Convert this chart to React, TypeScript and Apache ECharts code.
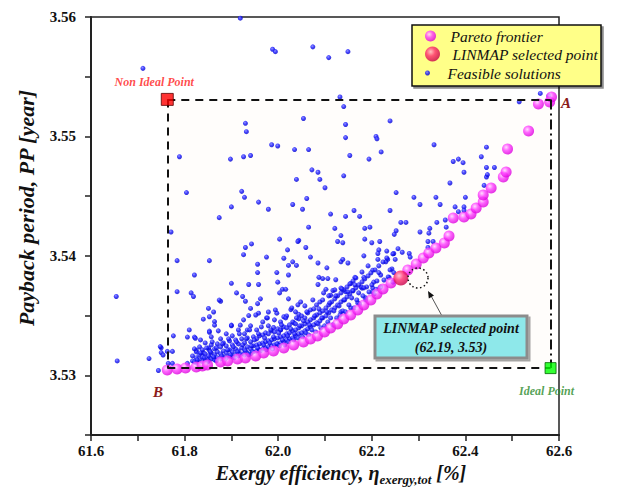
import React, { useEffect, useRef } from "react";
import * as echarts from "echarts";

const FONT = "'Liberation Serif', 'Times New Roman', serif";

// Pareto frontier (exergy efficiency %, payback period year)
const paretoFrontier: [number, number][] = [
  [61.763, 3.53044], [61.784, 3.53053], [61.802, 3.53061], [61.825, 3.5307], [61.838, 3.53078],
  [61.849, 3.53086], [61.877, 3.53111], [61.892, 3.5312], [61.913, 3.53136], [61.93, 3.53145],
  [61.952, 3.53162], [61.969, 3.53187], [61.99, 3.53203], [62.012, 3.53229], [62.033, 3.53254],
  [62.054, 3.53279], [62.069, 3.53304], [62.084, 3.53329], [62.099, 3.53363], [62.112, 3.53396],
  [62.127, 3.5343], [62.14, 3.53471], [62.155, 3.53505], [62.17, 3.53547], [62.183, 3.53589],
  [62.198, 3.5363], [62.211, 3.53681], [62.224, 3.53723], [62.241, 3.53773], [62.277, 3.53882],
  [62.295, 3.53932], [62.31, 3.53982], [62.322, 3.54024], [62.337, 3.54066], [62.355, 3.54108],
  [62.365, 3.54166], [62.374, 3.54317], [62.397, 3.54325], [62.412, 3.54351], [62.423, 3.54401],
  [62.438, 3.54451], [62.438, 3.5451], [62.455, 3.54568], [62.481, 3.5466], [62.487, 3.54702],
  [62.49, 3.54895], [62.535, 3.55045], [62.556, 3.55272], [62.58, 3.55288], [62.584, 3.5533],
];

const linmapPoint: [number, number][] = [[62.262, 3.53815]];

const nonIdealPoint: [number, number] = [61.763, 3.5531];
const idealPoint: [number, number] = [62.582, 3.5306];

// Feasible solutions: scattered points
const feasibleScattered: [number, number][] = [
  [61.711, 3.5557], [61.919, 3.5599], [61.988, 3.5573], [61.994, 3.5571], [62.074, 3.5575], [62.108, 3.5566], [62.149, 3.5571],
  [62.132, 3.5533], [62.14, 3.5525], [62.054, 3.5515], [62.144, 3.551], [62.239, 3.5513], [61.93, 3.5511], [61.932, 3.5504],
  [62.144, 3.5499], [62.209, 3.55], [62.211, 3.5498], [61.986, 3.5493], [61.999, 3.5492], [62.035, 3.5489], [62.065, 3.5489],
  [62.22, 3.5487], [62.153, 3.5484], [61.789, 3.5483], [61.898, 3.5481], [61.926, 3.5483], [61.941, 3.5484], [62.194, 3.5481],
  [62.333, 3.5493], [62.072, 3.5472], [62.085, 3.547], [62.039, 3.5464], [62.089, 3.5464], [62.14, 3.5467], [62.1, 3.5457],
  [61.804, 3.5453], [61.922, 3.5454], [61.928, 3.5449], [62.252, 3.5453], [61.958, 3.5445], [61.979, 3.5439], [62.031, 3.5443],
  [62.061, 3.5448], [62.052, 3.5439], [61.9, 3.5441], [61.874, 3.5432], [62.112, 3.5435], [62.144, 3.5433], [62.162, 3.5438],
  [62.174, 3.5433], [62.239, 3.5438], [62.065, 3.5424], [62.121, 3.5423], [62.185, 3.5423], [62.196, 3.5424], [62.252, 3.5421],
  [62.248, 3.5418], [62.262, 3.5428], [62.273, 3.5428], [62.134, 3.5417], [62.003, 3.5414], [62.044, 3.5413], [62.185, 3.5414],
  [62.217, 3.5412], [61.771, 3.542], [62.29, 3.5449], [62.303, 3.5443], [62.337, 3.5449], [62.346, 3.5443], [62.378, 3.5441],
  [62.4, 3.5449], [62.397, 3.5441], [62.397, 3.5438], [62.385, 3.5437], [62.367, 3.5461], [62.44, 3.5459], [62.445, 3.5466],
  [62.447, 3.5468], [62.445, 3.5474], [62.462, 3.5474], [62.397, 3.547], [62.395, 3.5478], [62.385, 3.5481], [62.374, 3.5479],
  [62.434, 3.5483], [62.445, 3.5491], [62.515, 3.5529], [62.56, 3.5536], [62.578, 3.5534], [62.303, 3.542], [62.324, 3.5423],
  [62.322, 3.5419], [62.339, 3.5428], [62.357, 3.543], [62.359, 3.5424], [62.32, 3.5412], [62.331, 3.5412], [62.32, 3.5407],
  [62.127, 3.5412], [62.138, 3.5411], [62.2, 3.5411], [62.215, 3.5405], [62.059, 3.5407], [62.069, 3.5399], [62.085, 3.5394],
  [62.104, 3.539], [62.134, 3.5395], [62.138, 3.5397], [62.149, 3.5394], [62.164, 3.5382], [62.183, 3.54], [62.202, 3.5388],
  [62.213, 3.5402], [62.213, 3.5397], [62.232, 3.5404], [62.234, 3.5397], [62.247, 3.5402], [62.25, 3.5397], [62.256, 3.5406],
  [62.265, 3.5403], [62.28, 3.5402], [62.282, 3.5399], [62.23, 3.5395], [62.243, 3.5389], [62.247, 3.5386], [62.219, 3.5384],
  [62.237, 3.5382], [62.245, 3.5378], [62.204, 3.5378], [62.215, 3.5386], [62.183, 3.5382], [62.179, 3.5373], [62.155, 3.5377],
  [62.134, 3.5373], [62.123, 3.538], [62.106, 3.5381], [62.095, 3.5381], [62.087, 3.5382], [62.085, 3.5376], [62.102, 3.5372],
  [62.117, 3.5371], [62.112, 3.5367], [62.144, 3.537], [62.159, 3.5371], [62.177, 3.5374], [62.189, 3.5374], [62.202, 3.5373],
  [62.209, 3.5372], [62.042, 3.5412], [62.031, 3.5395],
  [61.784, 3.5396], [61.853, 3.5396], [61.821, 3.5384], [61.784, 3.537], [61.814, 3.5369], [61.819, 3.5366], [61.9, 3.5377],
  [61.937, 3.5376], [61.958, 3.5376], [61.911, 3.5369], [61.924, 3.5366], [61.93, 3.5362], [61.877, 3.5362], [61.851, 3.5356],
  [61.862, 3.5353], [61.84, 3.5347], [61.853, 3.5349], [61.864, 3.5345], [61.853, 3.5337], [61.81, 3.5338], [61.806, 3.5332],
  [61.821, 3.5332], [61.776, 3.5333], [61.9, 3.5342], [61.919, 3.5342], [61.934, 3.5338], [61.937, 3.535], [61.941, 3.5356],
  [61.956, 3.536], [61.958, 3.5352], [61.962, 3.5364], [61.956, 3.5393], [61.956, 3.5386], [61.93, 3.5407], [61.943, 3.541],
  [61.926, 3.5401], [61.975, 3.5399], [62.02, 3.5405], [62.012, 3.5398], [62.022, 3.5392], [61.997, 3.5386], [61.999, 3.5378],
  [62.022, 3.5384], [62.003, 3.5369], [62.009, 3.5372], [62.016, 3.5372], [62.022, 3.5364], [62.027, 3.5355], [62.039, 3.5392],
  [62.012, 3.5349], [61.997, 3.5352], [61.975, 3.5348], [61.979, 3.5353], [61.99, 3.534], [62.005, 3.5338], [62.042, 3.5359],
  [62.044, 3.5351], [62.033, 3.5344],
  [61.656, 3.5312], [61.724, 3.5314], [61.744, 3.5304], [61.75, 3.5319], [61.75, 3.5323], [61.763, 3.532], [61.774, 3.532],
  [61.765, 3.531], [61.774, 3.531], [61.806, 3.531], [61.823, 3.5331], [61.825, 3.5321], [61.84, 3.5319], [61.853, 3.5321],
  [61.853, 3.5336], [61.864, 3.5342], [61.874, 3.5363], [61.853, 3.5315], [61.868, 3.5313], [61.654, 3.5366], [61.748, 3.5324],
  [61.754, 3.5317],
];

// Feasible solutions: dense band just above the frontier
const feasibleBand: [number, number][] = [
  [61.817, 3.5312], [61.817, 3.53162],
  [61.825, 3.53104], [61.825, 3.53146], [61.825, 3.53196],
  [61.832, 3.53129], [61.832, 3.53171], [61.832, 3.53238],
  [61.838, 3.53112], [61.838, 3.53154], [61.838, 3.53213],
  [61.844, 3.53129], [61.844, 3.53179], [61.844, 3.53271],
  [61.851, 3.5312], [61.851, 3.53162], [61.851, 3.53229],
  [61.857, 3.53137], [61.857, 3.53187], [61.857, 3.53254], [61.857, 3.53322],
  [61.864, 3.53129], [61.864, 3.53171], [61.864, 3.53221],
  [61.87, 3.53146], [61.87, 3.53196], [61.87, 3.53263],
  [61.877, 3.53137], [61.877, 3.53179], [61.877, 3.53238], [61.877, 3.53305],
  [61.883, 3.53154], [61.883, 3.53204], [61.883, 3.53271],
  [61.889, 3.53146], [61.889, 3.53187], [61.889, 3.53246], [61.889, 3.53347],
  [61.896, 3.53162], [61.896, 3.53213], [61.896, 3.53288],
  [61.902, 3.53154], [61.902, 3.53196], [61.902, 3.53254], [61.902, 3.5333],
  [61.909, 3.53171], [61.909, 3.53221], [61.909, 3.53296],
  [61.915, 3.53162], [61.915, 3.53204], [61.915, 3.53263], [61.915, 3.5338],
  [61.922, 3.53179], [61.922, 3.53229], [61.922, 3.53305],
  [61.928, 3.53171], [61.928, 3.53213], [61.928, 3.53271], [61.928, 3.53347],
  [61.934, 3.53187], [61.934, 3.53238], [61.934, 3.53313],
  [61.941, 3.53179], [61.941, 3.53221], [61.941, 3.5328], [61.941, 3.53414],
  [61.947, 3.53196], [61.947, 3.53246], [61.947, 3.53322],
  [61.954, 3.53204], [61.954, 3.53254], [61.954, 3.53305], [61.954, 3.5338],
  [61.96, 3.53213], [61.96, 3.53263], [61.96, 3.5333],
  [61.967, 3.53221], [61.967, 3.53271], [61.967, 3.53338], [61.967, 3.53447],
  [61.973, 3.53229], [61.973, 3.5328], [61.973, 3.53355],
  [61.979, 3.53238], [61.979, 3.53288], [61.979, 3.53347], [61.979, 3.53414],
  [61.986, 3.53246], [61.986, 3.53296], [61.986, 3.53372],
  [61.992, 3.53254], [61.992, 3.53305], [61.992, 3.53363], [61.992, 3.53464],
  [61.999, 3.53263], [61.999, 3.53313], [61.999, 3.53389],
  [62.005, 3.53271], [62.005, 3.53322], [62.005, 3.5338], [62.005, 3.53447],
  [62.012, 3.5328], [62.012, 3.5333], [62.012, 3.53405],
  [62.018, 3.53296], [62.018, 3.53347], [62.018, 3.53397], [62.018, 3.53497],
  [62.024, 3.53305], [62.024, 3.53355], [62.024, 3.53422],
  [62.031, 3.53313], [62.031, 3.53372], [62.031, 3.53447],
  [62.037, 3.5333], [62.037, 3.5338], [62.037, 3.5343], [62.037, 3.53531],
  [62.044, 3.53347], [62.044, 3.53397], [62.044, 3.53472],
  [62.05, 3.53355], [62.05, 3.53414], [62.05, 3.53497],
  [62.057, 3.53372], [62.057, 3.5343], [62.057, 3.5348], [62.057, 3.53581],
  [62.063, 3.53389], [62.063, 3.53447], [62.063, 3.53522],
  [62.069, 3.53405], [62.069, 3.53464], [62.069, 3.53547],
  [62.076, 3.53422], [62.076, 3.5348], [62.076, 3.53556],
  [62.082, 3.53439], [62.082, 3.53505], [62.082, 3.53589],
  [62.089, 3.53455], [62.089, 3.53522], [62.089, 3.53614],
  [62.095, 3.5348], [62.095, 3.53539], [62.095, 3.53631],
  [62.102, 3.53497], [62.102, 3.53564],
  [62.108, 3.53522], [62.108, 3.53589], [62.108, 3.53665],
  [62.114, 3.53547], [62.114, 3.53614],
  [62.121, 3.53564], [62.121, 3.5364], [62.121, 3.53715],
  [62.127, 3.53589], [62.127, 3.53665],
  [62.134, 3.53614], [62.134, 3.5369], [62.134, 3.53531],
  [62.14, 3.53631], [62.14, 3.53715],
  [62.147, 3.53656], [62.147, 3.5374],
  [62.153, 3.53681], [62.153, 3.53765], [62.155, 3.53564],
  [62.16, 3.53707], [62.16, 3.5379],
  [62.166, 3.53732], [62.166, 3.53815], [62.17, 3.53606],
  [62.172, 3.53757],
  [62.179, 3.53782], [62.179, 3.53865], [62.187, 3.53648],
  [62.185, 3.53807],
  [62.192, 3.53832], [62.192, 3.53916], [62.202, 3.53698],
  [62.198, 3.53857],
  [62.207, 3.53882],
  [62.215, 3.53916], [62.219, 3.5374],
  [62.224, 3.53949],
  [62.232, 3.53982],
  [62.245, 3.54016],
];

// Feasible solutions: further points filling the band between the columns above
const feasibleBandFill: [number, number][] = [
  [61.821, 3.53112], [61.821, 3.53221], [61.827, 3.53129], [61.834, 3.53187], [61.834, 3.53296],
  [61.842, 3.53146], [61.847, 3.53229], [61.849, 3.53112], [61.855, 3.53196], [61.859, 3.5328],
  [61.862, 3.53154], [61.868, 3.5312], [61.868, 3.53229], [61.872, 3.53372], [61.879, 3.53162],
  [61.881, 3.53263], [61.885, 3.53129], [61.892, 3.53213], [61.894, 3.53305], [61.898, 3.53171],
  [61.9, 3.53414], [61.904, 3.53238], [61.906, 3.53146], [61.911, 3.5328], [61.913, 3.53196],
  [61.917, 3.53347], [61.919, 3.53171], [61.924, 3.53254], [61.926, 3.53464], [61.93, 3.53204],
  [61.932, 3.53305], [61.937, 3.53171], [61.939, 3.5338], [61.943, 3.53246], [61.945, 3.53196],
  [61.949, 3.53296], [61.952, 3.53505], [61.956, 3.53229], [61.958, 3.53347], [61.962, 3.53204],
  [61.964, 3.53405], [61.969, 3.53254], [61.971, 3.53313], [61.975, 3.53213], [61.977, 3.5348],
  [61.982, 3.53271], [61.984, 3.5338], [61.988, 3.53221], [61.99, 3.53322], [61.994, 3.53547],
  [61.997, 3.53263], [62.001, 3.53355], [62.003, 3.53246], [62.007, 3.53422], [62.009, 3.53296],
  [62.014, 3.53254], [62.016, 3.5348], [62.02, 3.5333], [62.022, 3.5328], [62.027, 3.53389],
  [62.029, 3.53564], [62.033, 3.53296], [62.035, 3.53347], [62.039, 3.5348], [62.042, 3.53313],
  [62.046, 3.53414], [62.048, 3.53614], [62.052, 3.53322], [62.054, 3.53455], [62.059, 3.53355],
  [62.061, 3.53531], [62.065, 3.53338], [62.067, 3.53422], [62.072, 3.5338], [62.074, 3.53631],
  [62.078, 3.53497], [62.08, 3.53363], [62.085, 3.5343], [62.087, 3.53556], [62.091, 3.53397],
  [62.093, 3.5348], [62.097, 3.5369], [62.099, 3.53414], [62.104, 3.53531], [62.106, 3.53447],
  [62.11, 3.53606], [62.112, 3.5348], [62.117, 3.53422], [62.119, 3.53539], [62.123, 3.53665],
  [62.125, 3.5348], [62.13, 3.53581], [62.132, 3.53505], [62.136, 3.53723], [62.138, 3.53539],
  [62.142, 3.53631], [62.144, 3.53531], [62.149, 3.53698], [62.151, 3.53589], [62.157, 3.53648],
  [62.162, 3.53564], [62.164, 3.53757], [62.168, 3.53631], [62.172, 3.5369], [62.174, 3.53597],
  [62.181, 3.53665], [62.183, 3.53732], [62.187, 3.53631], [62.194, 3.53698], [62.2, 3.53757],
  [62.205, 3.53681], [62.211, 3.5379], [62.217, 3.53732], [62.226, 3.53798], [62.235, 3.53823],
  [62.239, 3.53882],
];

const feasibleSolutions: [number, number][] = [...feasibleScattered, ...feasibleBand, ...feasibleBandFill];

const xLabelFormatter = (v: number) => (Math.round(v * 10) % 2 === 0 ? v.toFixed(1) : "");
const yLabelFormatter = (v: number) => (Math.round(v * 1000) % 10 === 0 ? v.toFixed(2) : "");

export default function App() {
  const ref = useRef<HTMLDivElement>(null);

  useEffect(() => {
    if (!ref.current) return;
    const chart = echarts.init(ref.current, undefined, { renderer: "svg" });

    const magenta = new echarts.graphic.RadialGradient(0.38, 0.35, 0.65, [
      { offset: 0, color: "#ffd6ff" },
      { offset: 0.45, color: "#ff40ff" },
      { offset: 1, color: "#dd00dd" },
    ]);
    const crimson = new echarts.graphic.RadialGradient(0.38, 0.35, 0.65, [
      { offset: 0, color: "#ffb3cc" },
      { offset: 0.45, color: "#ff2a6e" },
      { offset: 1, color: "#c8004a" },
    ]);
    const blue = new echarts.graphic.RadialGradient(0.4, 0.35, 0.65, [
      { offset: 0, color: "#7a7aff" },
      { offset: 0.5, color: "#1515ff" },
      { offset: 1, color: "#0000c8" },
    ]);

    const legendCommon = {
      orient: "horizontal",
      padding: 0,
      itemWidth: 30,
      icon: "circle",
      selectedMode: false,
      z: 12,
      textStyle: { fontFamily: FONT, fontSize: 15.5, fontStyle: "italic", color: "#111" },
    };

    const [nx, ny] = nonIdealPoint;
    const [ix, iy] = idealPoint;

    chart.setOption({
      animation: false,
      backgroundColor: "#ffffff",
      grid: {
        left: 91,
        right: 78,
        top: 17,
        bottom: 59,
        show: true,
        borderColor: "#222",
        borderWidth: 1.5,
        containLabel: false,
        outerBoundsMode: "none",
      },
      legend: [
        { ...legendCommon, data: ["Pareto frontier"], left: 425, top: 28, itemHeight: 11 },
        { ...legendCommon, data: ["LINMAP selected point"], left: 425, top: 46, itemHeight: 15 },
        { ...legendCommon, data: ["Feasible solutions"], left: 425, top: 65, itemHeight: 5 },
      ],
      xAxis: {
        type: "value",
        min: 61.6,
        max: 62.6,
        interval: 0.1,
        axisLine: { show: true, onZero: false, lineStyle: { color: "#222", width: 2 } },
        axisTick: { show: true, inside: false, length: 6, lineStyle: { color: "#222", width: 1.5 } },
        axisLabel: {
          formatter: xLabelFormatter,
          fontFamily: FONT,
          fontWeight: "bold",
          fontSize: 15,
          color: "#111",
          margin: 8,
        },
        splitLine: { show: false },
        name: "{a|Exergy efficiency, η}{s|exergy,tot}{a| [%]}",
        nameLocation: "middle",
        nameGap: 27,
        nameTextStyle: {
          fontFamily: FONT,
          fontSize: 20,
          fontStyle: "italic",
          fontWeight: "bold",
          color: "#111",
          padding: [0, 0, 0, 32],
          rich: {
            a: { fontFamily: FONT, fontSize: 20, fontStyle: "italic", fontWeight: "bold", color: "#111", verticalAlign: "top", lineHeight: 22 },
            s: { fontFamily: FONT, fontSize: 13, fontStyle: "italic", fontWeight: "bold", color: "#111", verticalAlign: "top", lineHeight: 14, padding: [10, 0, 0, 0] },
          },
        },
      },
      yAxis: {
        type: "value",
        min: 3.525,
        max: 3.56,
        interval: 0.005,
        axisLine: { show: true, onZero: false, lineStyle: { color: "#222", width: 2 } },
        axisTick: { show: true, inside: false, length: 6, lineStyle: { color: "#222", width: 1.5 } },
        axisLabel: {
          formatter: yLabelFormatter,
          fontFamily: FONT,
          fontWeight: "bold",
          fontSize: 15,
          color: "#111",
          margin: 15,
        },
        splitLine: { show: false },
        name: "Payback period, PP [year]",
        nameLocation: "middle",
        nameGap: 54,
        nameTextStyle: { fontFamily: FONT, fontSize: 22, fontStyle: "italic", fontWeight: "bold", color: "#111", padding: [0, 0, 0, 36] },
      },
      series: [
        {
          name: "frame",
          type: "scatter",
          data: [],
          z: 1,
          silent: true,
          markArea: {
            silent: true,
            itemStyle: { color: "rgba(255, 215, 180, 0.06)" },
            data: [[{ coord: [nx, ny] }, { coord: [ix, iy] }]],
          },
          markLine: {
            silent: true,
            symbol: ["none", "none"],
            label: { show: false },
            lineStyle: { color: "#111", width: 2, type: [8, 6] },
            data: [
              [{ coord: [nx, ny] }, { coord: [ix, ny] }],
              [{ coord: [nx, ny] }, { coord: [nx, iy] }],
              [{ coord: [nx, iy] }, { coord: [ix, iy] }],
              [
                { coord: [ix, ny], lineStyle: { color: "#111", width: 2, type: [10, 4, 2, 4] } },
                { coord: [ix, iy] },
              ],
            ],
          },
        },
        {
          name: "Feasible solutions",
          type: "scatter",
          data: feasibleSolutions,
          symbol: "circle",
          symbolSize: 5,
          z: 3,
          itemStyle: { color: blue },
        },
        {
          name: "Pareto frontier",
          type: "scatter",
          data: paretoFrontier,
          symbol: "circle",
          symbolSize: 11,
          z: 4,
          itemStyle: { color: magenta },
        },
        {
          name: "LINMAP selected point",
          type: "scatter",
          data: linmapPoint,
          symbol: "circle",
          symbolSize: 15,
          z: 5,
          itemStyle: { color: crimson },
        },
        {
          name: "Non Ideal Point",
          type: "scatter",
          data: [nonIdealPoint],
          symbol: "rect",
          symbolSize: 12,
          z: 6,
          itemStyle: { color: "#ff0000", borderColor: "#5a0000", borderWidth: 1 },
          label: {
            show: true,
            formatter: "Non Ideal Point",
            position: "top",
            distance: 5,
            offset: [-13, 0],
            fontFamily: FONT,
            fontSize: 12,
            fontStyle: "italic",
            fontWeight: "bold",
            color: "#ff1a1a",
          },
        },
        {
          name: "Ideal Point",
          type: "scatter",
          data: [idealPoint],
          symbol: "rect",
          symbolSize: 11,
          z: 6,
          itemStyle: { color: "#00ff00", borderColor: "#006400", borderWidth: 1 },
          label: {
            show: true,
            formatter: "Ideal Point",
            position: "bottom",
            distance: 11,
            offset: [-4, 0],
            fontFamily: FONT,
            fontSize: 12,
            fontStyle: "italic",
            fontWeight: "bold",
            color: "#2a8a2a",
          },
        },
      ],
      graphic: [
        {
          type: "rect",
          z: 10,
          shape: { x: 412, y: 25, width: 189, height: 61 },
          style: { fill: "#ffff88", stroke: "#111", lineWidth: 1.5, shadowColor: "rgba(0,0,0,0.45)", shadowOffsetX: 2, shadowOffsetY: 2, shadowBlur: 0 },
        },
        {
          type: "circle",
          z: 10,
          shape: { cx: 418, cy: 278, r: 10 },
          style: { fill: "none", stroke: "#111", lineWidth: 1.5, lineDash: [1.5, 2.5] },
        },
        {
          type: "line",
          z: 10,
          shape: { x1: 442, y1: 316, x2: 430, y2: 294 },
          style: { stroke: "#555", lineWidth: 1 },
        },
        {
          type: "polygon",
          z: 10,
          shape: { points: [[428, 291], [434, 295.6], [428.8, 298.6]] },
          style: { fill: "#111" },
        },
        {
          type: "rect",
          z: 10,
          shape: { x: 375, y: 316, width: 152, height: 42 },
          style: { fill: "#8ee8ea", stroke: "#8c8c8c", lineWidth: 3, shadowColor: "rgba(0,0,0,0.35)", shadowOffsetX: 2, shadowOffsetY: 2, shadowBlur: 0 },
        },
        {
          type: "text",
          z: 11,
          x: 451,
          y: 328,
          style: { text: "LINMAP selected point", fontFamily: FONT, fontSize: 14, fontStyle: "italic", fontWeight: "bold", fill: "#111", align: "center", verticalAlign: "middle" },
        },
        {
          type: "text",
          z: 11,
          x: 451,
          y: 347,
          style: { text: "(62.19, 3.53)", fontFamily: FONT, fontSize: 14, fontStyle: "italic", fontWeight: "bold", fill: "#111", align: "center", verticalAlign: "middle" },
        },
        {
          type: "text",
          z: 11,
          x: 566,
          y: 103,
          style: { text: "A", fontFamily: FONT, fontSize: 15, fontStyle: "italic", fontWeight: "bold", fill: "#8b1a1a", align: "center", verticalAlign: "middle" },
        },
        {
          type: "text",
          z: 11,
          x: 158,
          y: 392,
          style: { text: "B", fontFamily: FONT, fontSize: 15, fontStyle: "italic", fontWeight: "bold", fill: "#8b1a1a", align: "center", verticalAlign: "middle" },
        },
      ],
    });

    return () => {
      chart.dispose();
    };
  }, []);

  return (
    <div
      ref={ref}
      style={{ position: "fixed", left: 0, top: 0, width: 637, height: 494, background: "#fff" }}
    />
  );
}
